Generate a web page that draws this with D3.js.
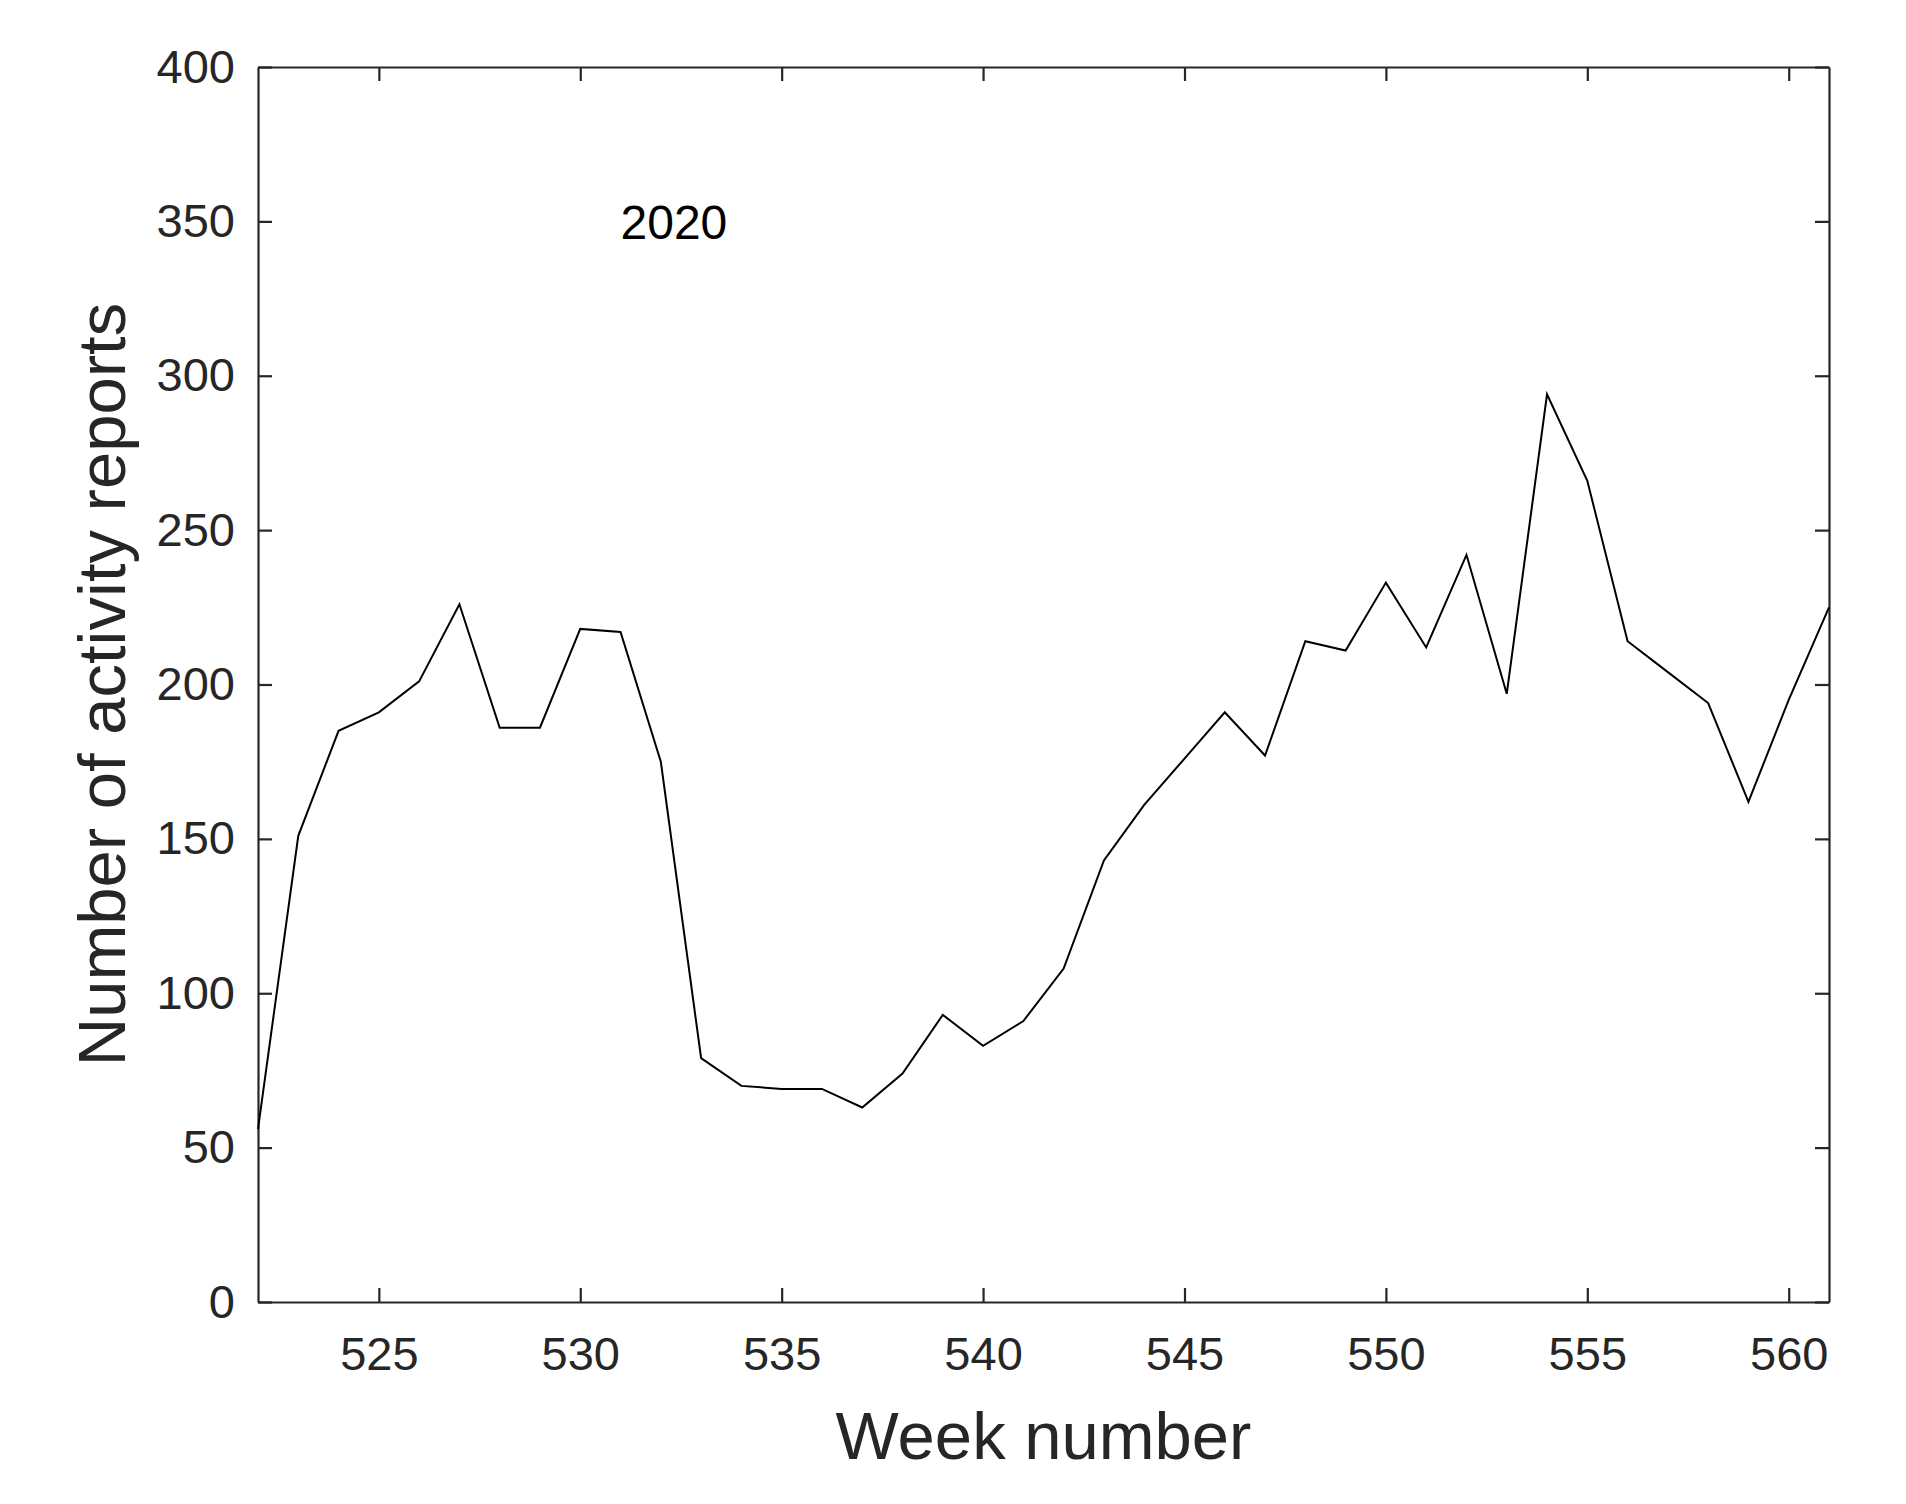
<!DOCTYPE html>
<html>
<head>
<meta charset="utf-8">
<script src="https://cdn.jsdelivr.net/npm/d3@7"></script>
<style>
  body { margin: 0; background: #fff; }
  svg { display: block; font-family: "Liberation Sans", Arial, sans-serif; }
  .axis path, .axis line { stroke: #262626; stroke-width: 2.2; }
  .axis text { fill: #262626; font-size: 47px; }
  .axis-title { fill: #262626; font-size: 67px; }
</style>
</head>
<body>
<svg id="chart"></svg>
<script>
// Weekly counts
const weeks = d3.range(522, 562);
const reports = [56, 151, 185, 191, 201, 226, 186, 186, 218, 217,
                 175, 79, 70, 69, 69, 63, 74, 93, 83, 91,
                 108, 143, 161, 176, 191, 177, 214, 211, 233, 212,
                 242, 197, 294, 266, 214, 204, 194, 162, 195, 225];
const xTicks = [525, 530, 535, 540, 545, 550, 555, 560];
const yTicks = [0, 50, 100, 150, 200, 250, 300, 350, 400];
const yearLabel = { week: 531, value: 350, text: "2020" };

const width = 1906, height = 1504;
const margin = { top: 67, right: 77, bottom: 202, left: 258 };
const innerW = width - margin.left - margin.right;
const innerH = height - margin.top - margin.bottom;

const svg = d3.select("#chart").attr("width", width).attr("height", height);
svg.append("rect").attr("width", width).attr("height", height).attr("fill", "#fff");

const chart = svg.append("g")
  .attr("transform", `translate(${margin.left},${margin.top})`);

const x = d3.scaleLinear().domain([522, 561]).range([0, innerW]);
const y = d3.scaleLinear().domain([0, 400]).range([innerH, 0]);

// Axes with inward ticks on all four sides
chart.append("g")
  .attr("class", "axis")
  .attr("transform", `translate(0,${innerH})`)
  .call(d3.axisBottom(x).tickValues(xTicks).tickSize(-14).tickSizeOuter(0).tickPadding(35));

chart.append("g")
  .attr("class", "axis")
  .call(d3.axisTop(x).tickValues(xTicks).tickSize(-14).tickSizeOuter(0).tickFormat(""));

chart.append("g")
  .attr("class", "axis")
  .call(d3.axisLeft(y).tickValues(yTicks).tickSize(-14).tickSizeOuter(0).tickPadding(23));

chart.append("g")
  .attr("class", "axis")
  .attr("transform", `translate(${innerW},0)`)
  .call(d3.axisRight(y).tickValues(yTicks).tickSize(-14).tickSizeOuter(0).tickFormat(""));

chart.selectAll(".axis text").attr("font-family", null);
chart.selectAll(".axis").attr("font-size", null).attr("font-family", null);

// Data line
const line = d3.line()
  .x((d, i) => x(weeks[i]))
  .y(d => y(d));

chart.append("path")
  .datum(reports)
  .attr("fill", "none")
  .attr("stroke", "#000")
  .attr("stroke-width", 2)
  .attr("stroke-linejoin", "miter")
  .attr("d", line);

// Year annotation
chart.append("text")
  .attr("x", x(yearLabel.week))
  .attr("y", y(yearLabel.value))
  .attr("dy", "0.36em")
  .attr("font-size", 48)
  .attr("fill", "#000")
  .text(yearLabel.text);

// Axis titles
svg.append("text")
  .attr("class", "axis-title")
  .attr("x", margin.left + innerW / 2)
  .attr("y", 1459)
  .attr("text-anchor", "middle")
  .text("Week number");

svg.append("text")
  .attr("class", "axis-title")
  .attr("transform", `translate(125,${margin.top + innerH / 2}) rotate(-90)`)
  .attr("text-anchor", "middle")
  .text("Number of activity reports");
</script>
</body>
</html>
